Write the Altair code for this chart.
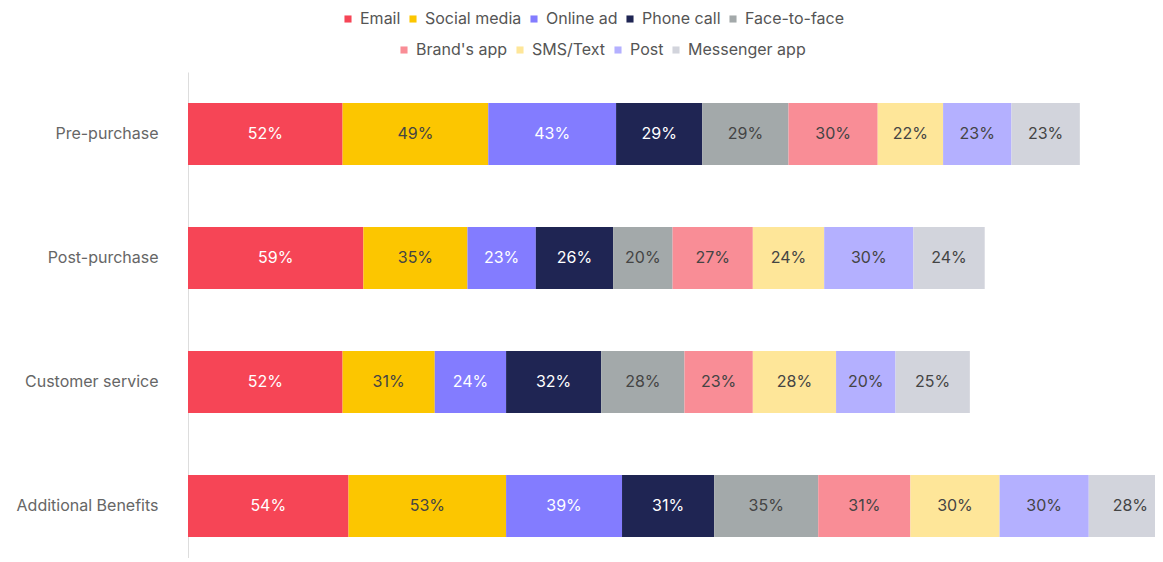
import altair as alt
import pandas as pd

stages = ["Pre-purchase", "Post-purchase", "Customer service", "Additional Benefits"]
channels = ["Email", "Social media", "Online ad", "Phone call", "Face-to-face",
            "Brand's app", "SMS/Text", "Post", "Messenger app"]
colors = ["#F64556", "#FCC600", "#837CFF", "#1F2553", "#A3A9AA",
          "#F98D96", "#FEE699", "#B4B0FF", "#D2D4DC"]

pre_purchase = [52, 49, 43, 29, 29, 30, 22, 23, 23]
post_purchase = [59, 35, 23, 26, 20, 27, 24, 30, 24]
customer_service = [52, 31, 24, 32, 28, 23, 28, 20, 25]
additional_benefits = [54, 53, 39, 31, 35, 31, 30, 30, 28]

series = [pre_purchase, post_purchase, customer_service, additional_benefits]
rows = []
for s, vals in zip(stages, series):
    for i, (c, v) in enumerate(zip(channels, vals)):
        rows.append({"stage": s, "channel": c, "value": v, "order": i})
df = pd.DataFrame(rows)

FONT = "Inter"

base = alt.Chart(df).transform_stack(
    stack="value", groupby=["stage"], as_=["x0", "x1"],
    sort=[alt.SortField("order", order="ascending")]
)

y_enc = alt.Y("stage:N", sort=stages, title=None,
              scale=alt.Scale(paddingInner=0.5, paddingOuter=0.25),
              axis=alt.Axis(labelFont=FONT, labelFontSize=16, labelColor="#666",
                            labelPadding=30, ticks=False, domainColor="#dddddd",
                            domainWidth=1, grid=False, labelFontWeight="normal"))
x_scale = alt.Scale(domain=[0, 331], nice=False, zero=True)


def legend(x, y):
    return alt.Legend(orient="none", legendX=x, legendY=y, direction="horizontal",
                      title=None, symbolType="square", symbolSize=50,
                      symbolStrokeWidth=0, labelFont=FONT, labelFontSize=16,
                      labelColor="#555", columnPadding=4, padding=0, labelOffset=4)


bars1 = base.transform_filter("datum.order < 5").mark_bar().encode(
    x=alt.X("x0:Q", scale=x_scale, axis=None),
    x2="x1:Q",
    y=y_enc,
    color=alt.Color("channel:N", scale=alt.Scale(domain=channels[:5], range=colors[:5]),
                    legend=legend(152, -61)),
)
bars2 = base.transform_filter("datum.order >= 5").mark_bar().encode(
    x=alt.X("x0:Q", scale=x_scale, axis=None),
    x2="x1:Q",
    y=y_enc,
    color=alt.Color("channel:N", scale=alt.Scale(domain=channels[5:], range=colors[5:]),
                    legend=legend(208, -30)),
)
labels = base.transform_calculate(
    mid="(datum.x0 + datum.x1) / 2",
    lbl="datum.value + '%'",
).mark_text(font=FONT, fontSize=16).encode(
    x=alt.X("mid:Q", scale=x_scale, axis=None),
    y=y_enc,
    text="lbl:N",
    color=alt.condition("indexof(['Email','Online ad','Phone call'], datum.channel) >= 0",
                        alt.value("white"), alt.value("#444444")),
)

chart = alt.layer(bars1, bars2, labels).resolve_scale(color="independent").properties(
    width=984, height=496,
    autosize=alt.AutoSizeParams(type="none"),
    padding={"left": 180, "top": 64, "right": -17, "bottom": -10},
).configure_view(stroke=None)

chart.save("out.html", embed_options={"renderer": "svg", "actions": False})
